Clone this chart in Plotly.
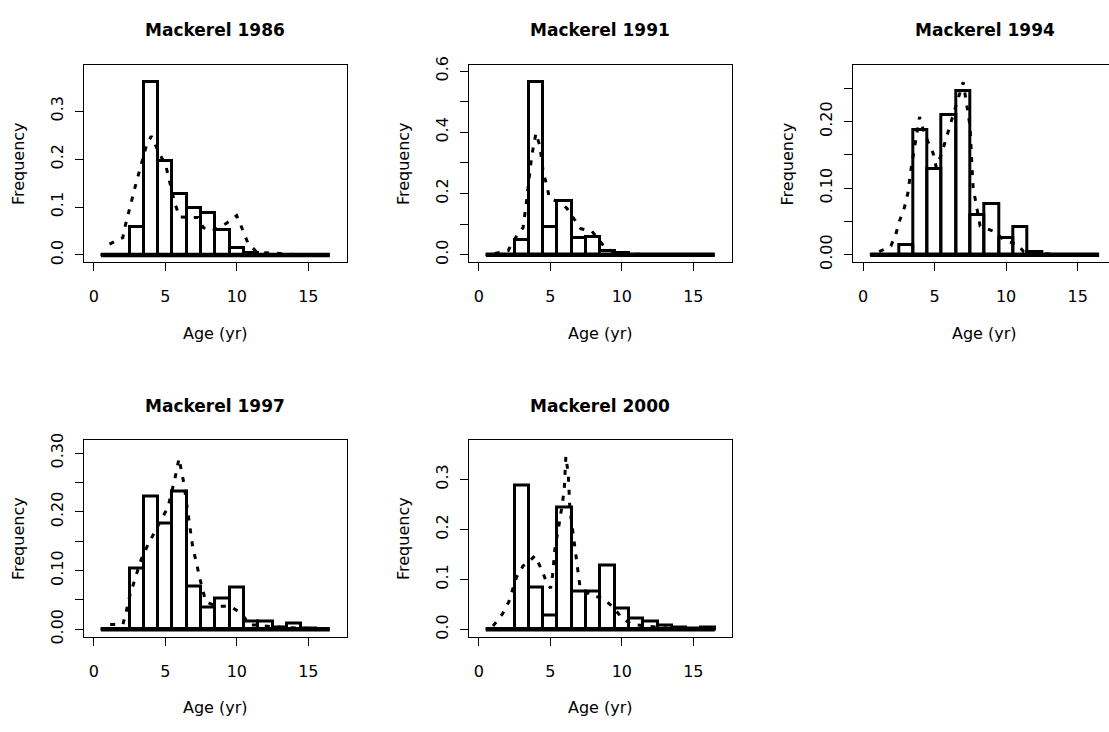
import plotly.graph_objects as go

W, H = 1109, 732

# ---------------- data ----------------
ages = list(range(1, 17))
titles = ["Mackerel 1986", "Mackerel 1991", "Mackerel 1994", "Mackerel 1997", "Mackerel 2000"]

freq_1986 = [0, 0, 0.059, 0.361, 0.196, 0.127, 0.099, 0.087, 0.053, 0.015, 0.004, 0.001, 0, 0, 0, 0]
freq_1991 = [0, 0, 0.048, 0.566, 0.092, 0.176, 0.054, 0.059, 0.011, 0.004, 0, 0, 0, 0, 0, 0]
freq_1994 = [0, 0, 0.0147, 0.187, 0.129, 0.2097, 0.246, 0.059, 0.0757, 0.0246, 0.0415, 0.0035, 0, 0, 0, 0]
freq_1997 = [0, 0, 0.1037, 0.226, 0.180, 0.2346, 0.0732, 0.037, 0.0516, 0.071, 0.0128, 0.0128, 0.003, 0.0095, 0.001, 0]
freq_2000 = [0, 0, 0.288, 0.083, 0.0274, 0.243, 0.075, 0.0763, 0.1285, 0.041, 0.021, 0.0163, 0.0078, 0.0046, 0.002, 0.003]

curve_x_1986 = [1.1, 2.03, 2.22, 2.46, 2.69, 2.92, 3.16, 3.39, 3.67, 4.02, 4.56, 5.03, 5.26, 5.66, 6.01,
                7.3, 7.65, 8.3, 9.28, 9.99, 10.4, 10.76, 11.4, 12, 13, 14, 15, 16]
curve_y_1986 = [0.0225, 0.036, 0.063, 0.089, 0.118, 0.145, 0.172, 0.196, 0.227, 0.248, 0.213, 0.1875, 0.159, 0.108, 0.079,
                0.078, 0.057, 0.05, 0.066, 0.082, 0.053, 0.026, 0.0055, 0.004, 0.003, 0.001, 0, 0]

curve_x_1991 = [1.12, 2.06, 2.4, 3.1, 3.35, 3.58, 3.7, 4.0, 4.28, 4.51, 4.79, 4.93, 5.56, 6.15, 6.61, 7.13,
                7.9, 8.72, 9.42, 10.5, 12, 14, 16]
curve_y_1991 = [0.004, 0.013, 0.045, 0.088, 0.178, 0.269, 0.322, 0.397, 0.354, 0.269, 0.221, 0.184, 0.173, 0.152, 0.12, 0.085,
                0.077, 0.029, 0.008, 0.002, 0, 0, 0]

curve_x_1994 = [1.13, 1.95, 2.3, 2.54, 2.89, 3.13, 3.36, 3.6, 3.95, 4.18, 4.53, 4.89, 5.12, 5.48, 5.71, 6.06,
                6.54, 7.0, 7.24, 7.48, 7.6, 7.7, 7.9, 8.18, 9.12, 9.94, 10.77, 11.2, 12, 14, 16]
curve_y_1994 = [0.0044, 0.013, 0.0315, 0.05, 0.0707, 0.092, 0.129, 0.163, 0.207, 0.19, 0.17, 0.153, 0.131, 0.151, 0.168, 0.19,
                0.227, 0.259, 0.222, 0.193, 0.138, 0.099, 0.077, 0.043, 0.035, 0.0206, 0.0158, 0.005, 0.002, 0, 0]

curve_x_1997 = [1.15, 2.04, 2.27, 2.5, 2.85, 3.32, 3.79, 4.26, 4.72, 5.19, 5.66, 5.96, 6.29, 6.52, 6.71, 6.94,
                7.18, 7.36, 7.83, 8.58, 9.52, 10.27, 10.92, 11.5, 12.5, 13.5, 14.5, 16]
curve_y_1997 = [0.008, 0.008, 0.03, 0.055, 0.083, 0.119, 0.144, 0.166, 0.1885, 0.208, 0.255, 0.291, 0.25, 0.208, 0.178, 0.136,
                0.114, 0.0915, 0.047, 0.039, 0.039, 0.028, 0.007, 0.007, 0.004, 0.003, 0.002, 0]

curve_x_2000 = [1.0, 1.66, 2.1, 2.64, 3.1, 3.5, 3.92, 4.32, 4.69, 5.02, 5.16, 5.32, 5.67, 5.97, 6.09, 6.26,
                6.37, 6.6, 6.84, 7.07, 7.77, 8.7, 9.4, 10.0, 10.7, 11.7, 13, 14, 15, 16]
curve_y_2000 = [0.0065, 0.031, 0.055, 0.104, 0.127, 0.135, 0.147, 0.124, 0.098, 0.082, 0.108, 0.16, 0.219, 0.277, 0.346, 0.31,
                0.241, 0.192, 0.14, 0.087, 0.0685, 0.062, 0.044, 0.023, 0.0098, 0.0065, 0.003, 0.002, 0.001, 0.001]

x_ticks = [0, 5, 10, 15]
y_tickvals = [
    [0, 0.1, 0.2, 0.3],
    [0, 0.1, 0.2, 0.3, 0.4, 0.5, 0.6],
    [0, 0.05, 0.10, 0.15, 0.20, 0.25],
    [0, 0.05, 0.10, 0.15, 0.20, 0.25, 0.30],
    [0, 0.1, 0.2, 0.3],
]
y_ticktext = [
    ["0.0", "0.1", "0.2", "0.3"],
    ["0.0", "", "0.2", "", "0.4", "", "0.6"],
    ["0.00", "", "0.10", "", "0.20", ""],
    ["0.00", "", "0.10", "", "0.20", "", "0.30"],
    ["0.0", "0.1", "0.2", "0.3"],
]

bars = [freq_1986, freq_1991, freq_1994, freq_1997, freq_2000]
curves = [(curve_x_1986, curve_y_1986), (curve_x_1991, curve_y_1991), (curve_x_1994, curve_y_1994),
          (curve_x_1997, curve_y_1997), (curve_x_2000, curve_y_2000)]

# ---------------- layout geometry (pixels) ----------------
BOX_W = 262.7
boxes = [(84, 57.3, 259.3), (469, 57.3, 259.3), (853.3, 57.3, 259.3),
         (84, 441.7, 642.5), (469, 441.7, 642.5)]
y_ranges = [[-0.0153, 0.3963], [-0.025, 0.62], [-0.0115, 0.285], [-0.0126, 0.3216], [-0.0145, 0.378]]
X_FULL = [-0.68, 17.68]

FONT = "DejaVu Sans"
fig = go.Figure()
annotations = []
layout_axes = {}

for i in range(5):
    n = "" if i == 0 else str(i + 1)
    xa, ya = "x" + n, "y" + n
    left, top, bottom = boxes[i]
    right = min(left + BOX_W, W)
    xr = list(X_FULL)
    if left + BOX_W > W:
        xr[1] = X_FULL[0] + (right - left) / BOX_W * (X_FULL[1] - X_FULL[0])

    fig.add_trace(go.Bar(x=ages, y=bars[i], width=1, xaxis=xa, yaxis=ya,
                         marker=dict(color="rgba(255,255,255,0)", line=dict(color="black", width=3)),
                         showlegend=False, hoverinfo="skip"))
    fig.add_trace(go.Scatter(x=[ages[0] - 0.5, ages[-1] + 0.5], y=[0, 0], mode="lines",
                             line=dict(color="black", width=4.5), xaxis=xa, yaxis=ya,
                             showlegend=False, hoverinfo="skip"))
    cx, cy = curves[i]
    fig.add_trace(go.Scatter(x=cx, y=cy, mode="lines", xaxis=xa, yaxis=ya,
                             line=dict(color="black", width=3, dash="5px,8px"),
                             showlegend=False, hoverinfo="skip"))

    layout_axes["xaxis" + n] = dict(
        domain=[left / W, right / W], range=xr, anchor=ya,
        tickvals=x_ticks, ticktext=[str(v) for v in x_ticks],
        ticks="outside", ticklen=8, tickwidth=1, tickcolor="black",
        showline=True, linecolor="black", linewidth=1, mirror=True,
        showgrid=False, zeroline=False, ticklabelstandoff=12,
        tickfont=dict(family=FONT, size=16, color="black"), fixedrange=True)
    layout_axes["yaxis" + n] = dict(
        domain=[1 - bottom / H, 1 - top / H], range=y_ranges[i], anchor=xa,
        tickvals=y_tickvals[i], ticktext=y_ticktext[i], tickangle=-90,
        ticks="outside", ticklen=8, tickwidth=1, tickcolor="black",
        showline=True, linecolor="black", linewidth=1, mirror=(right - left >= BOX_W - 1),
        showgrid=False, zeroline=False, ticklabelstandoff=6,
        tickfont=dict(family=FONT, size=16, color="black"), fixedrange=True)

    cxp = left + BOX_W / 2
    annotations.append(dict(text="<b>" + titles[i] + "</b>", x=cxp / W, y=1 - (top - 35.6) / H,
                            xref="paper", yref="paper", xanchor="center", yanchor="middle",
                            showarrow=False, font=dict(family=FONT, size=17, color="black")))
    annotations.append(dict(text="Age (yr)", x=cxp / W, y=1 - (bottom + 72.6) / H,
                            xref="paper", yref="paper", xanchor="center", yanchor="middle",
                            showarrow=False, font=dict(family=FONT, size=16, color="black")))
    annotations.append(dict(text="Frequency", x=(left - 65.5) / W, y=1 - ((top + bottom) / 2) / H,
                            xref="paper", yref="paper", xanchor="center", yanchor="middle",
                            textangle=-90, showarrow=False, font=dict(family=FONT, size=16, color="black")))

fig.update_layout(
    width=W, height=H, margin=dict(l=0, r=0, t=0, b=0),
    paper_bgcolor="white", plot_bgcolor="white",
    showlegend=False, bargap=0, annotations=annotations,
    **layout_axes,
)

fig.write_html("out.html", config={"displayModeBar": False})
